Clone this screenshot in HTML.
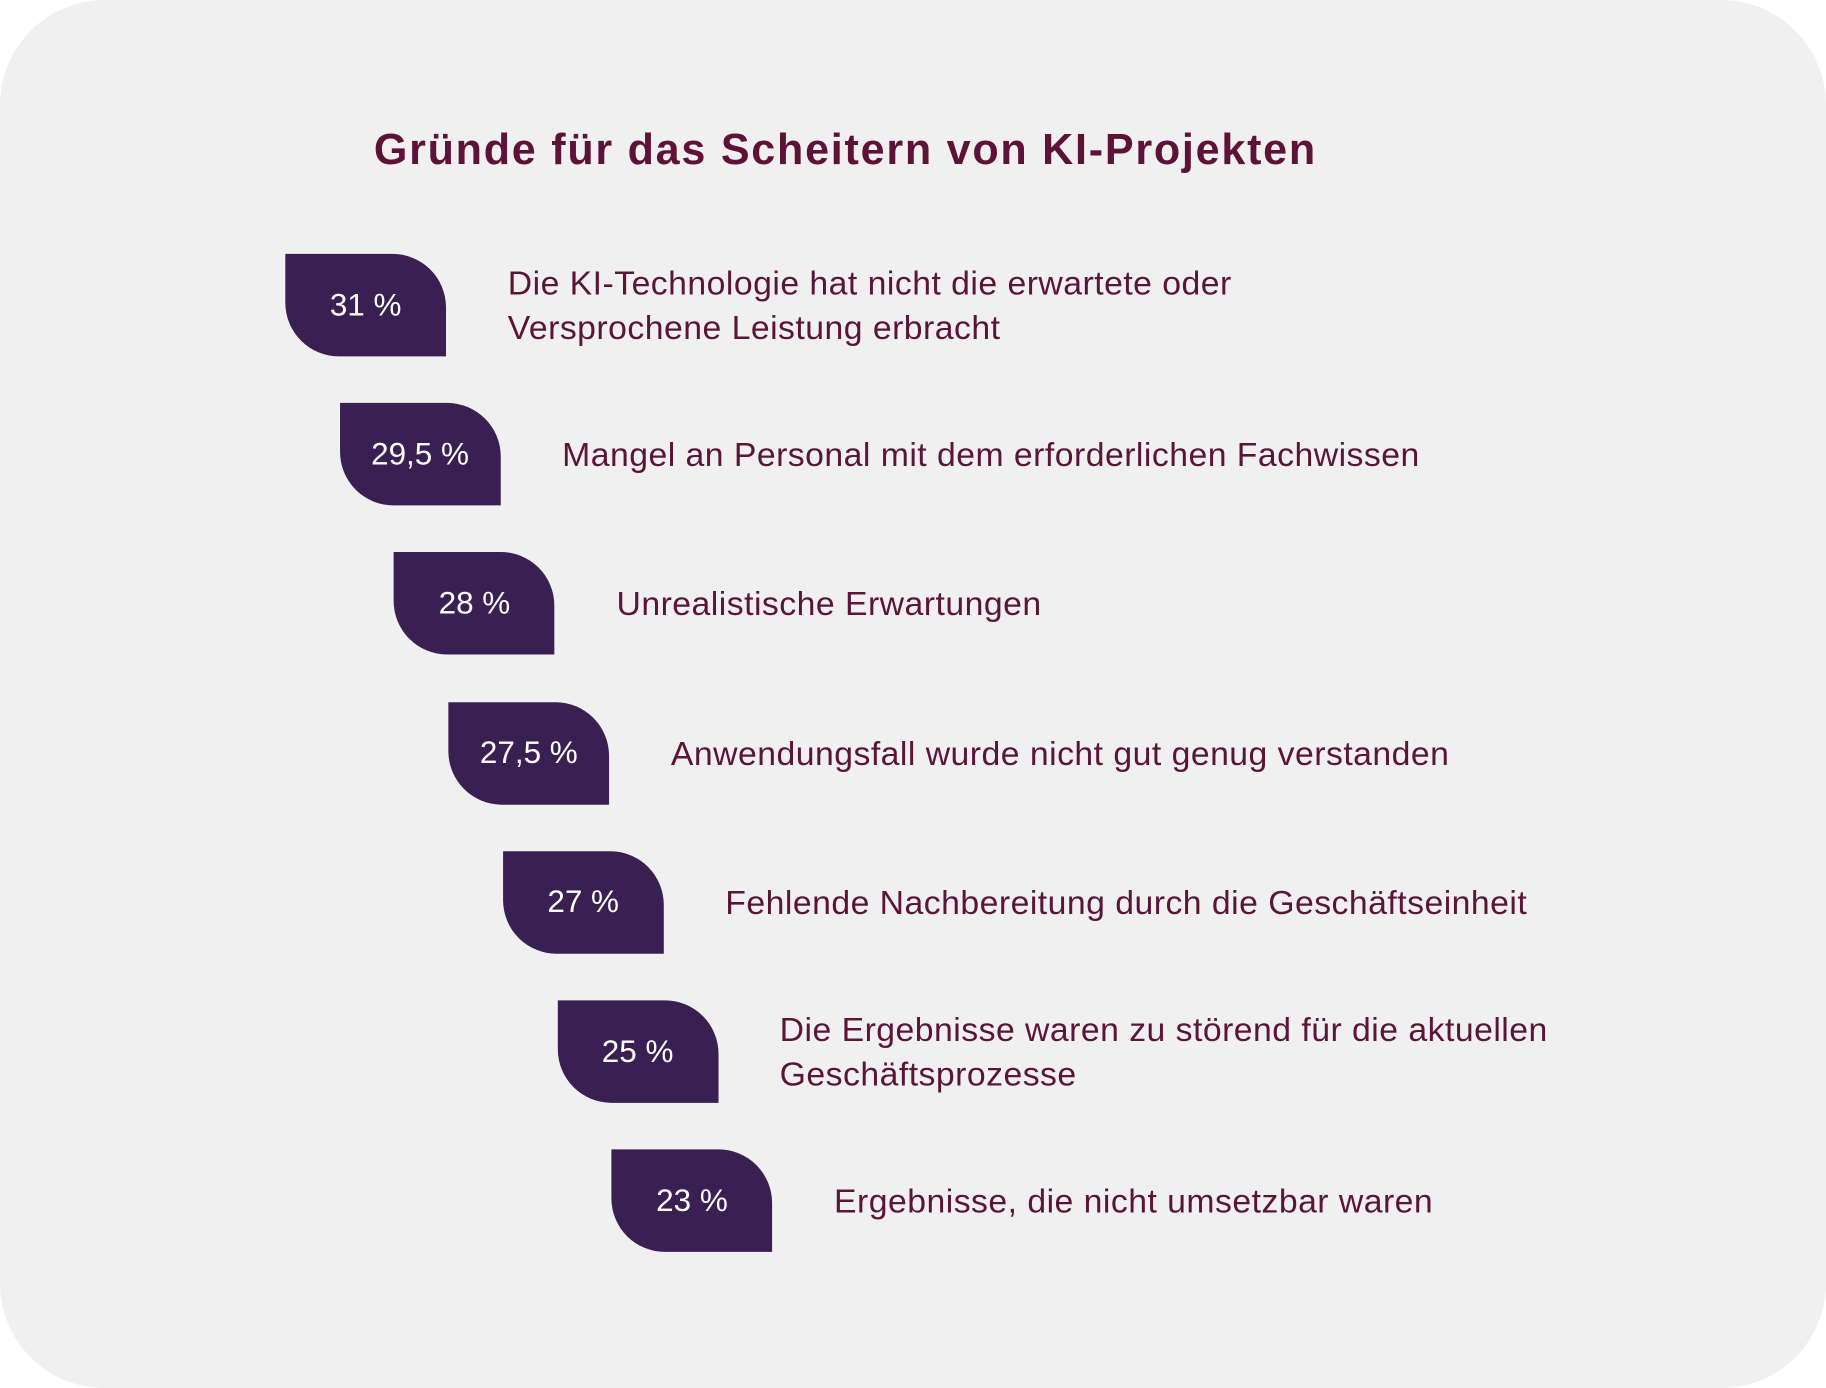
<!DOCTYPE html>
<html><head><meta charset="utf-8">
<style>
html,body{margin:0;padding:0;background:#fff;}
#wrap{width:1826px;height:1388px;overflow:hidden;position:relative;}
#stage{position:absolute;left:0;top:0;width:1568px;height:1192px;transform:scale(1.16454);transform-origin:0 0;}
#card{position:absolute;left:0;top:0;width:1568px;height:1192px;background:#f0f0f0;border-radius:90px;}
#title{position:absolute;left:321px;top:108px;font-family:"Liberation Sans",sans-serif;font-weight:bold;font-size:37px;color:#5e1238;white-space:nowrap;letter-spacing:1.5px;}
.badge{position:absolute;width:138px;height:88px;background:#3a1f52;border-radius:0 46px 0 46px;color:#fff;font-family:"Liberation Sans",sans-serif;font-size:27px;display:flex;align-items:center;justify-content:center;}
.lbl{position:absolute;font-family:"Liberation Sans",sans-serif;font-size:29px;line-height:38px;color:#5a1538;white-space:nowrap;letter-spacing:0.4px;transform:translateY(-50%);}
</style></head>
<body>
<div id="wrap">
<div id="stage">
<div id="card"></div>
<div id="title">Gründe für das Scheitern von KI-Projekten</div>
</div>
</div>
<script>
const values = ["31 %","29,5 %","28 %","27,5 %","27 %","25 %","23 %"];
const labels = [
 "Die KI-Technologie hat nicht die erwartete oder<br>Versprochene Leistung erbracht",
 "Mangel an Personal mit dem erforderlichen Fachwissen",
 "Unrealistische Erwartungen",
 "Anwendungsfall wurde nicht gut genug verstanden",
 "Fehlende Nachbereitung durch die Geschäftseinheit",
 "Die Ergebnisse waren zu störend für die aktuellen<br>Geschäftsprozesse",
 "Ergebnisse, die nicht umsetzbar waren"
];
const stage = document.getElementById('stage');
function xPos(i){return 245 + i*46.7;}
function yPos(i){return 218 + i*128.2;}
values.forEach((v,i)=>{
  const b=document.createElement('div');
  b.className='badge';
  b.style.left=xPos(i)+'px';
  b.style.top=yPos(i)+'px';
  b.textContent=v;
  
  
  stage.appendChild(b);
  const t=document.createElement('div');
  t.className='lbl';
  t.style.left=(xPos(i)+138+53)+'px';
  t.style.top=(yPos(i)+45)+'px';
  t.innerHTML=labels[i];
  
  
  stage.appendChild(t);
});
</script>
</body></html>
